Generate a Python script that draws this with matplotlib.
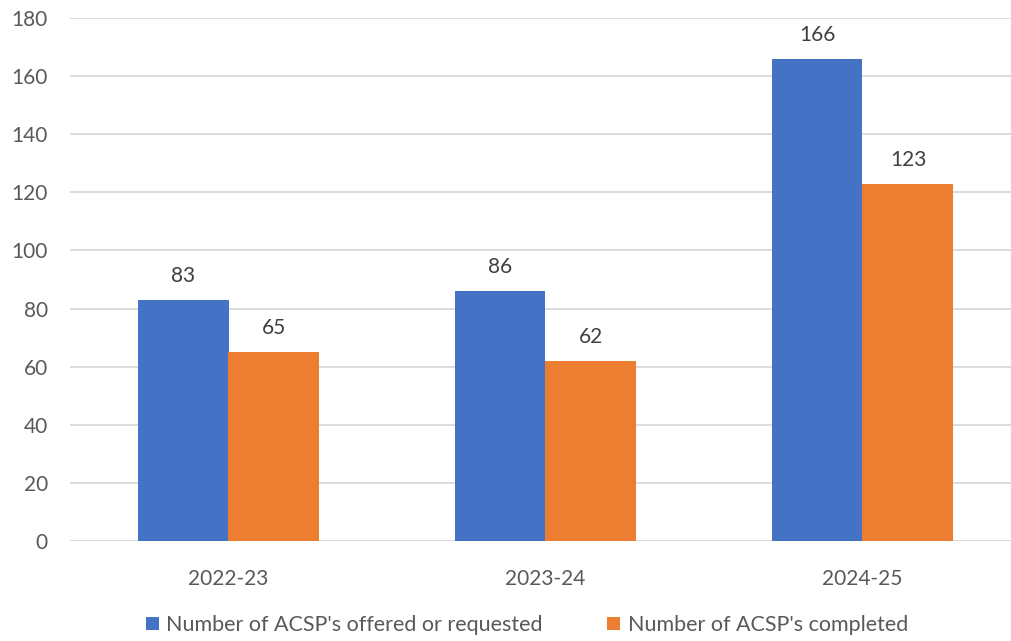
import matplotlib
matplotlib.use("Agg")
import matplotlib.pyplot as plt
import numpy as np

categories = ["2022-23", "2023-24", "2024-25"]
offered = [83, 86, 166]
completed = [65, 62, 123]
series_names = ["Number of ACSP's offered or requested", "Number of ACSP's completed"]
yticks = [0, 20, 40, 60, 80, 100, 120, 140, 160, 180]

plt.rcParams['font.family'] = ['Lato', 'DejaVu Sans']

W, H = 1012, 641
fig = plt.figure(figsize=(W/100, H/100), dpi=100)
ax = fig.add_axes([70/W, (H-541)/H, (W-70)/W, (541-18)/H])

blue = "#4472C4"
orange = "#ED7D31"
bw = 0.287
x = np.arange(len(categories))
b1 = ax.bar(x - bw/2, offered, bw, color=blue, label=series_names[0], zorder=3)
b2 = ax.bar(x + bw/2, completed, bw, color=orange, label=series_names[1], zorder=3)

for bars, vals in ((b1, offered), (b2, completed)):
    for r, v in zip(bars, vals):
        ax.annotate(str(v), (r.get_x() + r.get_width()/2, v), xytext=(0, 10),
                    textcoords="offset points", ha="center", va="bottom",
                    fontsize=15, color="#404040")

ax.set_xlim(-0.5, -0.5 + (W-70)/317)
ax.set_ylim(0, 180)
ax.set_yticks(yticks)
ax.set_xticks(x)
ax.set_xticklabels(categories)
ax.yaxis.grid(True, color="#d9d9d9", linewidth=1.3, zorder=0)
ax.set_axisbelow(True)
for s in ax.spines.values():
    s.set_visible(False)
ax.tick_params(axis="both", length=0, labelsize=15, colors="#595959")
ax.tick_params(axis="y", pad=16)
ax.tick_params(axis="x", pad=20)

fig.legend(handles=[b1, b2], labels=series_names, loc="center",
           bbox_to_anchor=(527/W, (H-625)/H), ncol=2, frameon=False,
           fontsize=15.5, labelcolor="#595959", handlelength=0.6, handleheight=0.6,
           handletextpad=0.35, columnspacing=3.0)

fig.savefig("out.png", dpi=100)
